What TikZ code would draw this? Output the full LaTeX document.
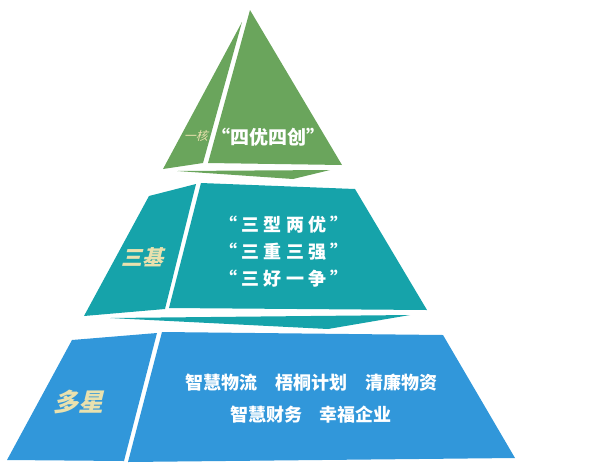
\documentclass[tikz,border=0pt]{standalone}
\usepackage{fontspec}
\newfontfamily\cjk{Noto Sans CJK SC}
\definecolor{coregreen}{HTML}{6AA55C}
\definecolor{baseteal}{HTML}{16A3AA}
\definecolor{starblue}{HTML}{3197DA}
\definecolor{tagbeige}{HTML}{E9E1AE}
\tikzset{
  facetxt/.style={text=white, font=\cjk\bfseries, inner sep=0pt, align=center},
  tagtxt/.style={text=tagbeige, font=\cjk, inner sep=0pt, xslant=0.25}
}
\begin{document}
\begin{tikzpicture}[x=1pt,y=-1pt]
		\useasboundingbox (0,0) rectangle (600,467);
		% top: one core
		\fill [coregreen] (250,10) -- (342,165) -- (208,163) -- cycle;
		\fill [coregreen] (242,22) -- (203,163) -- (163,169) -- cycle;
		\fill [coregreen] (177,171) -- (330,170) -- (293,179) -- cycle;
		\node [tagtxt, font=\cjk\fontsize{12}{12}\selectfont] (core) at (197,136) {一核};
		\node [facetxt, font=\cjk\bfseries\fontsize{19}{19}\selectfont] (coretxt) at (268,137) {“四优四创”};
		% middle: three bases
		\fill [baseteal] (201,183) -- (355,189) -- (427,310) -- (169,308) -- cycle;
		\fill [baseteal] (196,184) -- (165,309) -- (84,316) -- (149,196) -- cycle;
		\fill [baseteal] (110,318) -- (410,315) -- (328,329) -- cycle;
		\node [tagtxt, font=\cjk\bfseries\fontsize{21}{21}\selectfont] (base) at (145,257) {三基};
		\node [facetxt, font=\cjk\bfseries\fontsize{18}{27}\selectfont] (basetxt) at (284,252)
		  {“\ 三\ 型\ 两\ 优\ ”\\“\ 三\ 重\ 三\ 强\ ”\\“\ 三\ 好\ 一\ 争\ ”};
		% bottom: many stars
		\fill [starblue] (162,332) -- (443,335) -- (515,458) -- (128,462) -- cycle;
		\fill [starblue] (157,333) -- (124,461) -- (7,460) -- (72,340) -- cycle;
		\node [tagtxt, font=\cjk\bfseries\fontsize{25}{25}\selectfont] (star) at (81,402) {多星};
		\node [facetxt, font=\cjk\bfseries\fontsize{18}{32}\selectfont] (startxt) at (311,399)
		  {智慧物流\quad 梧桐计划\quad 清廉物资\\智慧财务\quad 幸福企业};
	\end{tikzpicture}
\end{document}
